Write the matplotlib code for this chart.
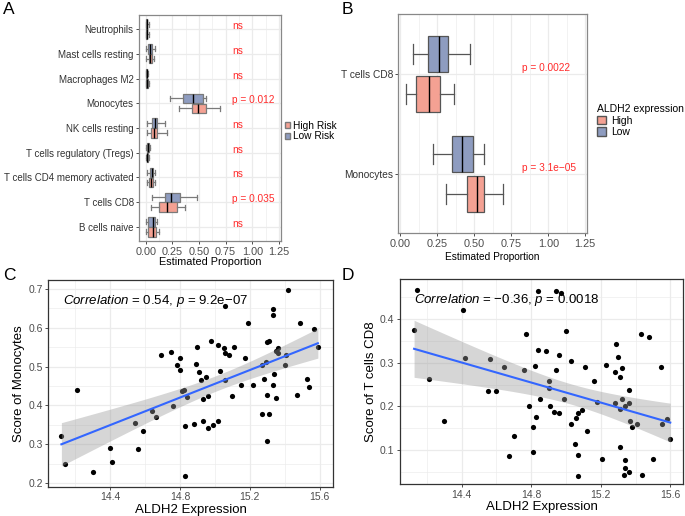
import matplotlib
matplotlib.use("Agg")
import matplotlib.pyplot as plt
from matplotlib.patches import Patch
from matplotlib.ticker import MultipleLocator, FixedLocator, FormatStrFormatter
import numpy as np

plt.rcParams['font.family'] = ['Liberation Sans', 'DejaVu Sans']
plt.rcParams['mathtext.fontset'] = 'custom'
plt.rcParams['mathtext.it'] = 'Liberation Sans:italic'
plt.rcParams['mathtext.rm'] = 'Liberation Sans'

# ---- Panel A data (van onder naar boven) ----
cellen_a = ["B cells naive", "T cells CD8", "T cells CD4 memory activated",
            "T cells regulatory (Tregs)", "NK cells resting", "Monocytes",
            "Macrophages M2", "Mast cells resting", "Neutrophils"]
# (whislo, q1, med, q3, whishi)
low_risk = [(0.0, 0.025, 0.065, 0.085, 0.11),
            (0.056, 0.184, 0.234, 0.321, 0.478),
            (0.014, 0.040, 0.060, 0.072, 0.088),
            (0.0, 0.012, 0.020, 0.028, 0.040),
            (0.010, 0.059, 0.084, 0.109, 0.180),
            (0.228, 0.353, 0.446, 0.534, 0.570),
            (0.0, 0.005, 0.010, 0.015, 0.025),
            (0.0, 0.025, 0.045, 0.063, 0.090),
            (0.0, 0.005, 0.010, 0.015, 0.030)]
high_risk = [(0.0, 0.025, 0.070, 0.095, 0.125),
             (0.047, 0.122, 0.203, 0.290, 0.370),
             (0.014, 0.034, 0.050, 0.066, 0.088),
             (0.0, 0.008, 0.015, 0.022, 0.035),
             (0.010, 0.047, 0.078, 0.109, 0.200),
             (0.312, 0.430, 0.490, 0.565, 0.700),
             (0.0, 0.005, 0.010, 0.018, 0.030),
             (0.005, 0.030, 0.045, 0.060, 0.075),
             (0.0, 0.005, 0.010, 0.015, 0.030)]
p_a = ["ns", "p = 0.035", "ns", "ns", "ns", "p = 0.012", "ns", "ns", "ns"]

# ---- Panel B data ----
cellen_b = ["Monocytes", "T cells CD8"]
low_b = [(0.219, 0.350, 0.418, 0.490, 0.567),
         (0.084, 0.185, 0.260, 0.325, 0.468)]
high_b = [(0.307, 0.450, 0.520, 0.563, 0.696),
          (0.038, 0.106, 0.192, 0.267, 0.366)]
p_b = ["p = 3.1e\u221205", "p = 0.0022"]

# ---- Panel C data ----
c_x = [14.12, 14.14, 14.21, 14.30, 14.40, 14.41, 14.54, 14.56, 14.59, 14.64,
       14.66, 14.69, 14.75, 14.76, 14.78, 14.80, 14.80, 14.81, 14.82, 14.83,
       14.83, 14.84, 14.88, 14.89, 14.90, 14.91, 14.92, 14.93, 14.93, 14.95,
       14.96, 14.96, 14.98, 14.99, 15.02, 15.02, 15.03, 15.05, 15.06, 15.06,
       15.06, 15.08, 15.10, 15.11, 15.15, 15.17, 15.19, 15.22, 15.27, 15.27,
       15.28, 15.29, 15.30, 15.30, 15.30, 15.31, 15.31, 15.33, 15.33, 15.33,
       15.34, 15.35, 15.35, 15.36, 15.36, 15.40, 15.41, 15.42, 15.47, 15.49,
       15.53, 15.54, 15.57, 15.59]
c_y = [0.322, 0.250, 0.441, 0.230, 0.291, 0.255, 0.355, 0.288, 0.334, 0.386,
       0.370, 0.530, 0.537, 0.398, 0.504, 0.522, 0.492, 0.438, 0.440, 0.219,
       0.348, 0.421, 0.353, 0.507, 0.550, 0.487, 0.465, 0.361, 0.418, 0.474,
       0.425, 0.341, 0.567, 0.349, 0.555, 0.360, 0.488, 0.547, 0.535, 0.655,
       0.465, 0.529, 0.425, 0.550, 0.453, 0.523, 0.613, 0.454, 0.377, 0.504,
       0.469, 0.511, 0.426, 0.308, 0.563, 0.567, 0.378, 0.454, 0.649, 0.633,
       0.480, 0.420, 0.539, 0.547, 0.535, 0.504, 0.529, 0.698, 0.428, 0.613,
       0.468, 0.448, 0.598, 0.550]

# ---- Panel D data ----
d_x = [14.126, 14.145, 14.214, 14.30, 14.41, 14.42, 14.55, 14.565, 14.60, 14.645,
       14.67, 14.70, 14.76, 14.77, 14.79, 14.81, 14.81, 14.82, 14.83, 14.84,
       14.84, 14.85, 14.885, 14.90, 14.90, 14.91, 14.93, 14.94, 14.94, 14.96,
       14.96, 14.97, 14.99, 15.00, 15.03, 15.03, 15.05, 15.06, 15.07, 15.07,
       15.07, 15.09, 15.11, 15.12, 15.16, 15.18, 15.21, 15.23, 15.28, 15.28,
       15.29, 15.30, 15.31, 15.31, 15.31, 15.32, 15.32, 15.335, 15.34, 15.34,
       15.34, 15.36, 15.36, 15.36, 15.37, 15.38, 15.41, 15.43, 15.44, 15.48,
       15.50, 15.545, 15.55, 15.58, 15.60]
d_y = [0.376, 0.467, 0.264, 0.167, 0.421, 0.311, 0.235, 0.309, 0.236, 0.291,
       0.087, 0.132, 0.283, 0.366, 0.202, 0.153, 0.095, 0.293, 0.175, 0.465,
       0.329, 0.217, 0.326, 0.259, 0.242, 0.200, 0.188, 0.283, 0.465, 0.184,
       0.317, 0.459, 0.217, 0.373, 0.305, 0.160, 0.115, 0.174, 0.186, 0.088,
       0.041, 0.191, 0.290, 0.143, 0.259, 0.211, 0.079, 0.296, 0.208, 0.278,
       0.342, 0.314, 0.194, 0.267, 0.107, 0.288, 0.217, 0.044, 0.060, 0.200,
       0.077, 0.238, 0.207, 0.050, 0.166, 0.152, 0.159, 0.367, 0.044, 0.360,
       0.079, 0.290, 0.160, 0.171, 0.125]

ROOD = '#F4A193'
BLAUW = '#8E9CC0'
GRID = '#EBEBEB'
TICKKLEUR = '#4D4D4D'

W, H = 685, 516
fig = plt.figure(figsize=(W / 100, H / 100), dpi=100)


def px_axes(links, rechts, boven, onder):
    return fig.add_axes([links / W, 1 - onder / H, (rechts - links) / W, (onder - boven) / H])


def stijl(ax, randkleur):
    for s in ax.spines.values():
        s.set_color(randkleur)
        s.set_linewidth(0.9)
    ax.set_axisbelow(True)
    ax.grid(which='major', color=GRID, linewidth=0.9)
    ax.grid(which='minor', color=GRID, linewidth=0.45)
    ax.tick_params(which='major', colors=TICKKLEUR, length=2.5, width=0.7, labelsize=7, pad=1.5)
    ax.tick_params(which='minor', length=0)


def stats(waarden):
    lijst = []
    for w in waarden:
        lijst.append(dict(whislo=w[0], q1=w[1], med=w[2], q3=w[3], whishi=w[4], fliers=[]))
    return lijst


def boxen(ax, waarden, posities, kleur, rand, breedte):
    ax.bxp(stats(waarden), positions=posities, widths=breedte, orientation='horizontal',
           patch_artist=True, showfliers=False, capwidths=0.2,
           boxprops=dict(facecolor=kleur, edgecolor=rand, linewidth=0.9),
           medianprops=dict(color='black', linewidth=1.0),
           whiskerprops=dict(color=rand, linewidth=0.9),
           capprops=dict(color=rand, linewidth=0.9))


# ================= Panel A =================
ax_a = px_axes(139.3, 280.5, 15, 241)
stijl(ax_a, '#888888')
pos_a = np.arange(1, len(cellen_a) + 1)
boxen(ax_a, low_risk, pos_a + 0.2, BLAUW, '#7A7A7A', 0.38)
boxen(ax_a, high_risk, pos_a - 0.2, ROOD, '#7A7A7A', 0.38)
ax_a.xaxis.set_major_locator(MultipleLocator(0.25))
ax_a.xaxis.set_minor_locator(MultipleLocator(0.125))
ax_a.xaxis.set_major_formatter(FormatStrFormatter('%.2f'))
ax_a.set_xlim(-0.06, 1.265)
ax_a.set_ylim(0.43, 9.57)
ax_a.set_yticks(pos_a)
ax_a.set_yticklabels(cellen_a, fontsize=7.0, color='#333333')
ax_a.tick_params(axis='x', labelsize=7.8)
ax_a.set_xlabel("Estimated Proportion", fontsize=7.8, labelpad=0)
for i, tekst in enumerate(p_a):
    ax_a.text(0.81, pos_a[i] + 0.12, tekst, color='#FF2A2A', fontsize=7.3, va='center', ha='left')

ax_a.legend(handles=[Patch(facecolor=ROOD, edgecolor='#7A7A7A', label='High Risk'),
                     Patch(facecolor=BLAUW, edgecolor='#7A7A7A', label='Low Risk')],
            loc='center left', bbox_to_anchor=(285 / W, 1 - 131 / H), bbox_transform=fig.transFigure,
            frameon=False, fontsize=7.3, handlelength=0.5, handleheight=0.5, handletextpad=0.3,
            labelspacing=0.05, borderpad=0, borderaxespad=0)

# ================= Panel B =================
ax_b = px_axes(398.5, 586.7, 14.3, 233.3)
stijl(ax_b, '#888888')
pos_b = np.arange(1, len(cellen_b) + 1)
boxen(ax_b, low_b, pos_b + 0.2, BLAUW, '#555555', 0.36)
boxen(ax_b, high_b, pos_b - 0.2, ROOD, '#555555', 0.36)
ax_b.xaxis.set_major_locator(MultipleLocator(0.25))
ax_b.xaxis.set_minor_locator(MultipleLocator(0.125))
ax_b.xaxis.set_major_formatter(FormatStrFormatter('%.2f'))
ax_b.set_xlim(-0.012, 1.26)
ax_b.set_ylim(0.41, 2.6)
ax_b.set_yticks(pos_b)
ax_b.set_yticklabels(cellen_b, fontsize=7.3, color='#333333')
ax_b.tick_params(axis='x', labelsize=7.8)
ax_b.set_xlabel("Estimated Proportion", fontsize=7.3, labelpad=2)
for i, tekst in enumerate(p_b):
    ax_b.text(0.82, pos_b[i] + 0.06, tekst, color='#FF2A2A', fontsize=7.3, va='center', ha='left')

ax_b.legend(handles=[Patch(facecolor=ROOD, edgecolor='#555555', label='High'),
                     Patch(facecolor=BLAUW, edgecolor='#555555', label='Low')],
            title='ALDH2 expression', title_fontsize=7.5, alignment='left',
            loc='upper left', bbox_to_anchor=(597 / W, 1 - 104 / H), bbox_transform=fig.transFigure,
            frameon=False, fontsize=7.5, handlelength=0.9, handleheight=0.9, handletextpad=0.5,
            labelspacing=0.15, borderpad=0, borderaxespad=0)


# ================= Panel C en D =================
def scatter_paneel(ax, x, y, ylabel, tekst):
    stijl(ax, '#333333')
    x = np.asarray(x)
    y = np.asarray(y)
    ax.scatter(x, y, s=14, color='black', linewidths=0, zorder=3)
    # lineaire fit met 95% betrouwbaarheidsband
    b, a = np.polyfit(x, y, 1)
    xs = np.linspace(x.min(), x.max(), 100)
    n = len(x)
    res = y - (a + b * x)
    s = np.sqrt(np.sum(res ** 2) / (n - 2))
    se = s * np.sqrt(1 / n + (xs - x.mean()) ** 2 / np.sum((x - x.mean()) ** 2))
    t = 1.993
    ys = a + b * xs
    ax.fill_between(xs, ys - t * se, ys + t * se, color='#999999', alpha=0.4, linewidth=0, zorder=4)
    ax.plot(xs, ys, color='#3366FF', linewidth=1.5, zorder=5)
    ax.set_xlim(14.045, 15.675)
    ax.xaxis.set_major_locator(FixedLocator([14.4, 14.8, 15.2, 15.6]))
    ax.xaxis.set_minor_locator(FixedLocator([14.2, 14.6, 15.0, 15.4]))
    ax.set_xlabel("ALDH2 Expression", fontsize=9.5, labelpad=1)
    ax.set_ylabel(ylabel, fontsize=9.5, labelpad=2)
    ax.tick_params(labelsize=7.5)
    ax.text(0.05, 0.9, tekst, transform=ax.transAxes, fontsize=9.5, ha='left', va='center', zorder=6)


ax_c = px_axes(48.3, 332.7, 280, 486.7)
scatter_paneel(ax_c, c_x, c_y, "Score of Monocytes",
               r"$\mathit{Correlation}$ = 0.54, $\mathit{p}$ = 9.2e" + "\u221207")
ax_c.yaxis.set_major_locator(MultipleLocator(0.1))
ax_c.yaxis.set_minor_locator(MultipleLocator(0.05))
ax_c.set_ylim(0.191, 0.723)

ax_d = px_axes(400, 683.3, 279.3, 484.3)
scatter_paneel(ax_d, d_x, d_y, "Score of T cells CD8",
               r"$\mathit{Correlation}$ = $-$0.36, $\mathit{p}$ = 0.0018")
ax_d.yaxis.set_major_locator(MultipleLocator(0.1))
ax_d.yaxis.set_minor_locator(MultipleLocator(0.05))
ax_d.set_ylim(0.022, 0.491)

# paneelletters
for letter, x, y in [("A", 3, 2), ("B", 342, 2), ("C", 3, 268), ("D", 342, 268)]:
    fig.text(x / W, 1 - y / H, letter, fontsize=12.5, ha='left', va='top')

fig.savefig("out.png", dpi=100)
